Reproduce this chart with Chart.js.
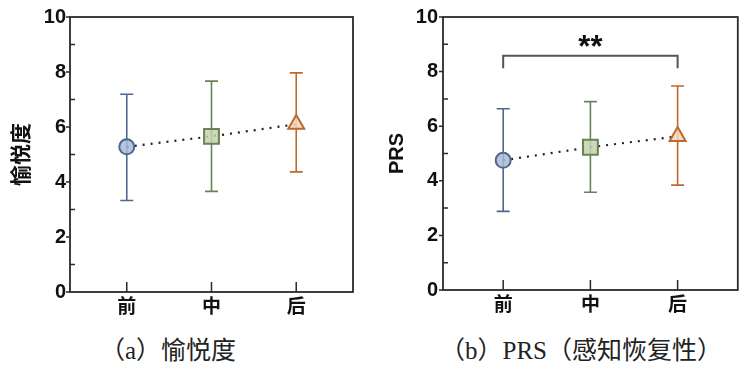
<!DOCTYPE html>
<html>
<head>
<meta charset="utf-8">
<script src="https://cdn.jsdelivr.net/npm/chart.js@4.4.1/dist/chart.umd.min.js"></script>
<style>
  html, body { margin: 0; padding: 0; background: #fff; }
  #wrap { position: relative; width: 749px; height: 380px; overflow: hidden; }
  canvas { position: absolute; top: 0; }
  #figA { left: 0; }
  #figB { left: 370px; }
  .cap {
    position: absolute; top: 334px; white-space: nowrap;
    font-family: 'Liberation Serif', 'Noto Sans CJK SC', serif;
    font-size: 25px; color: #222; line-height: 34px;
  }
  #capA { left: 100px; }
  #capB { left: 440px; }
</style>
</head>
<body>
<div id="wrap">
  <canvas id="figA" width="370" height="320"></canvas>
  <canvas id="figB" width="379" height="320"></canvas>
  <div class="cap" id="capA">（a）愉悦度</div>
  <div class="cap" id="capB">（b）PRS（感知恢复性）</div>
</div>
<script>
// ----- data -----
const categories = ['前', '中', '后'];
const yTicks = [0, 2, 4, 6, 8, 10];

// (a) 愉悦度
const joyMean = [5.28, 5.66, 6.10];
const joyLow  = [3.33, 3.66, 4.37];
const joyHigh = [7.19, 7.67, 7.97];

// (b) PRS
const prsMean = [4.75, 5.23, 5.63];
const prsLow  = [2.88, 3.58, 3.84];
const prsHigh = [6.64, 6.90, 7.47];

// 显著性标注 (前 vs 后)
const sigFrom = 0, sigTo = 2;
const sigBar = 8.58, sigFoot = 8.12, sigTextY = 9.13;
const sigText = '**';

// ----- styles -----
const lineCols = ['#4d6890', '#6a8254', '#bf682c'];
const fillCols = ['rgba(170,186,215,0.85)', 'rgba(195,210,175,0.85)', 'rgba(244,216,192,0.85)'];
const shapes = ['circle', 'rect', 'triangle'];
const radii = [7.5, 10.5, 9.2];
const LATIN = "'Liberation Sans', 'Noto Sans CJK SC', sans-serif";

// 误差线 + 外框 + 刻度 + 显著性括号
const decorPlugin = {
  id: 'decor',
  beforeDatasetsDraw(chart, args, opts) {
    const {ctx} = chart;
    const xs = chart.scales.x, ys = chart.scales.y;
    ctx.save();
    ctx.lineWidth = 1.6;
    opts.low.forEach((lo, i) => {
      const x = xs.getPixelForValue(i);
      const y0 = ys.getPixelForValue(lo), y1 = ys.getPixelForValue(opts.high[i]);
      ctx.strokeStyle = lineCols[i];
      ctx.beginPath();
      ctx.moveTo(x, y0); ctx.lineTo(x, y1);
      ctx.moveTo(x - 6.5, y0); ctx.lineTo(x + 6.5, y0);
      ctx.moveTo(x - 6.5, y1); ctx.lineTo(x + 6.5, y1);
      ctx.stroke();
    });
    ctx.restore();
  },
  afterDraw(chart, args, opts) {
    const {ctx, chartArea: a} = chart;
    const xs = chart.scales.x, ys = chart.scales.y;
    ctx.save();
    ctx.strokeStyle = '#2a2a2a';
    ctx.lineWidth = 1.8;
    ctx.strokeRect(a.left, a.top, a.right - a.left, a.bottom - a.top);
    ctx.lineWidth = 1.5;
    ctx.beginPath();
    for (let v = 0; v <= 10; v++) {
      const y = ys.getPixelForValue(v);
      if (v % 2 === 0) { ctx.moveTo(a.left - 4, y); ctx.lineTo(a.left, y); }
      else { ctx.moveTo(a.left, y); ctx.lineTo(a.left + 5, y); }
    }
    categories.forEach((_, i) => {
      const x = xs.getPixelForValue(i);
      ctx.moveTo(x, a.bottom); ctx.lineTo(x, a.bottom - 10);
    });
    ctx.stroke();

    if (opts.sig) {
      const xa = xs.getPixelForValue(sigFrom), xb = xs.getPixelForValue(sigTo);
      const yb = ys.getPixelForValue(sigBar), yf = ys.getPixelForValue(sigFoot);
      ctx.strokeStyle = '#555';
      ctx.lineWidth = 2;
      ctx.beginPath();
      ctx.moveTo(xa, yf); ctx.lineTo(xa, yb); ctx.lineTo(xb, yb); ctx.lineTo(xb, yf);
      ctx.stroke();
      ctx.fillStyle = '#111';
      ctx.font = 'bold 31px ' + LATIN;
      ctx.textAlign = 'center';
      ctx.textBaseline = 'alphabetic';
      const m = ctx.measureText(sigText);
      const yc = ys.getPixelForValue(sigTextY);
      const base = yc + (m.actualBoundingBoxAscent - m.actualBoundingBoxDescent) / 2;
      ctx.fillText(sigText, xs.getPixelForValue((sigFrom + sigTo) / 2), base);
    }
    ctx.restore();
  }
};

function makeChart(canvas, {mean, low, high, title, titleSize, titlePad, yWidth, xHeight, padTop, padRight, tickPad, xMin, xMax, sig}) {
  return new Chart(canvas, {
    type: 'line',
    data: {
      datasets: [{
        data: mean.map((v, i) => ({x: i, y: v})),
        borderColor: '#222',
        borderWidth: 2.2,
        borderDash: [2, 6],
        tension: 0,
        fill: false,
        pointStyle: shapes,
        pointRadius: radii,
        pointBorderWidth: 2,
        pointBackgroundColor: fillCols,
        pointBorderColor: lineCols,
        clip: false
      }]
    },
    options: {
      responsive: false,
      animation: false,
      events: [],
      layout: { padding: { top: padTop, right: padRight, left: 0, bottom: 0 } },
      plugins: {
        legend: { display: false },
        tooltip: { enabled: false },
        decor: { low, high, sig }
      },
      scales: {
        x: {
          type: 'linear', min: xMin, max: xMax,
          afterBuildTicks: s => { s.ticks = categories.map((_, i) => ({value: i})); },
          afterFit: s => { s.height = xHeight; },
          ticks: {
            callback: v => categories[v],
            font: { family: LATIN, size: 19, weight: 'bold' },
            color: '#111', padding: 4, maxRotation: 0
          },
          grid: { display: false, drawTicks: false },
          border: { display: false }
        },
        y: {
          min: 0, max: 10,
          afterBuildTicks: s => { s.ticks = yTicks.map(v => ({value: v})); },
          afterFit: s => { s.width = yWidth; },
          ticks: {
            font: { family: LATIN, size: 20, weight: 'bold' },
            color: '#111', padding: tickPad
          },
          grid: { display: false, drawTicks: false },
          border: { display: false },
          title: {
            display: true, text: title, color: '#111',
            font: { family: LATIN, size: titleSize, weight: 'bold' },
            padding: { top: titlePad, bottom: 0 }
          }
        }
      }
    },
    plugins: [decorPlugin]
  });
}

makeChart(document.getElementById('figA'), {
  mean: joyMean, low: joyLow, high: joyHigh,
  title: '愉悦度', titleSize: 21, titlePad: 10,
  yWidth: 70, xHeight: 28, padTop: 17, padRight: 17, tickPad: 4,
  xMin: -0.67, xMax: 2.67, sig: false
});

makeChart(document.getElementById('figB'), {
  mean: prsMean, low: prsLow, high: prsHigh,
  title: 'PRS', titleSize: 20, titlePad: 15,
  yWidth: 73, xHeight: 30, padTop: 15, padRight: 11, tickPad: 5,
  xMin: -0.69, xMax: 2.69, sig: true
});
</script>
</body>
</html>
